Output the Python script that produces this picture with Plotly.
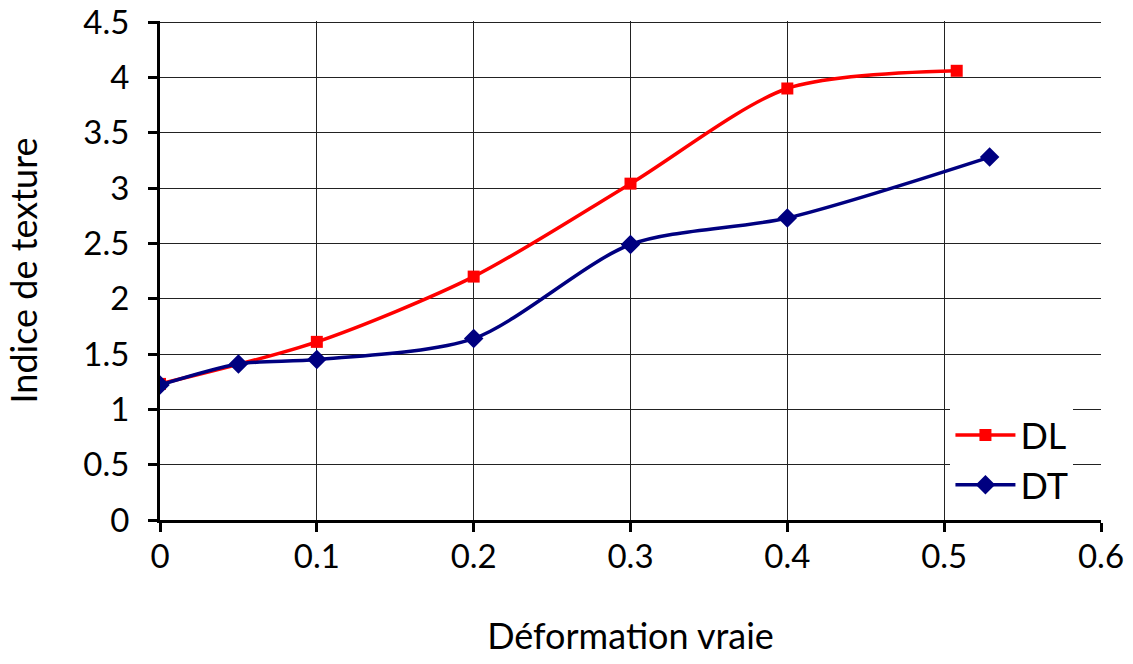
import plotly.graph_objects as go

# True strain vs texture index for the two directions
dl_x = [0.0, 0.1, 0.2, 0.3, 0.4, 0.508]
dl_y = [1.23, 1.61, 2.20, 3.04, 3.90, 4.06]

dt_x = [0.0, 0.05, 0.1, 0.2, 0.3, 0.4, 0.529]
dt_y = [1.22, 1.41, 1.45, 1.64, 2.49, 2.73, 3.28]

x_ticks = [0, 0.1, 0.2, 0.3, 0.4, 0.5, 0.6]
x_tick_text = ["0", "0.1", "0.2", "0.3", "0.4", "0.5", "0.6"]
y_ticks = [0, 0.5, 1, 1.5, 2, 2.5, 3, 3.5, 4, 4.5]
y_tick_text = ["0", "0.5", "1", "1.5", "2", "2.5", "3", "3.5", "4", "4.5"]

FONT = "Lato, Open Sans, sans-serif"
FS = 33
FS_TITLE = 36

fig = go.Figure()
fig.add_trace(go.Scatter(
    x=dl_x, y=dl_y, name="DL", mode="lines+markers",
    line=dict(color="#ff0000", width=3.5, shape="spline", smoothing=0.8),
    marker=dict(symbol="square", size=12, color="#ff0000"),
))
fig.add_trace(go.Scatter(
    x=dt_x, y=dt_y, name="DT", mode="lines+markers",
    line=dict(color="#000080", width=3.5, shape="spline", smoothing=0.8),
    marker=dict(symbol="diamond", size=15, color="#000080"),
))

fig.update_layout(
    width=1133, height=664,
    margin=dict(l=160, r=32, t=21, b=144),
    paper_bgcolor="white", plot_bgcolor="white",
    font=dict(family=FONT, size=FS, color="black"),
    showlegend=True,
    legend=dict(
        x=0.84, y=0.12, xanchor="left", yanchor="middle",
        bgcolor="white", borderwidth=0,
        font=dict(family=FONT, size=36, color="black"),
        itemwidth=60, tracegroupgap=0,
    ),
    xaxis=dict(
        range=[0, 0.6], tickvals=x_ticks, ticktext=x_tick_text,
        showgrid=True, gridcolor="#222222", gridwidth=1,
        showline=True, linecolor="black", linewidth=3,
        ticks="outside", ticklen=9, tickwidth=3, tickcolor="black",
        zeroline=False, automargin=False,
        ticklabelstandoff=-4,
        title=dict(text="Déformation vraie", standoff=51,
                   font=dict(family=FONT, size=FS_TITLE)),
        tickfont=dict(family=FONT, size=FS),
    ),
    yaxis=dict(
        range=[0, 4.51], tickvals=y_ticks, ticktext=y_tick_text,
        showgrid=True, gridcolor="#222222", gridwidth=1,
        showline=True, linecolor="black", linewidth=3,
        ticks="outside", ticklen=9, tickwidth=3, tickcolor="black",
        zeroline=False, automargin=False,
        ticklabelstandoff=12, ticklabeloverflow="allow",
        title=dict(text="Indice de texture", standoff=35,
                   font=dict(family=FONT, size=FS_TITLE)),
        tickfont=dict(family=FONT, size=FS),
    ),
)

fig.write_html("out.html")
